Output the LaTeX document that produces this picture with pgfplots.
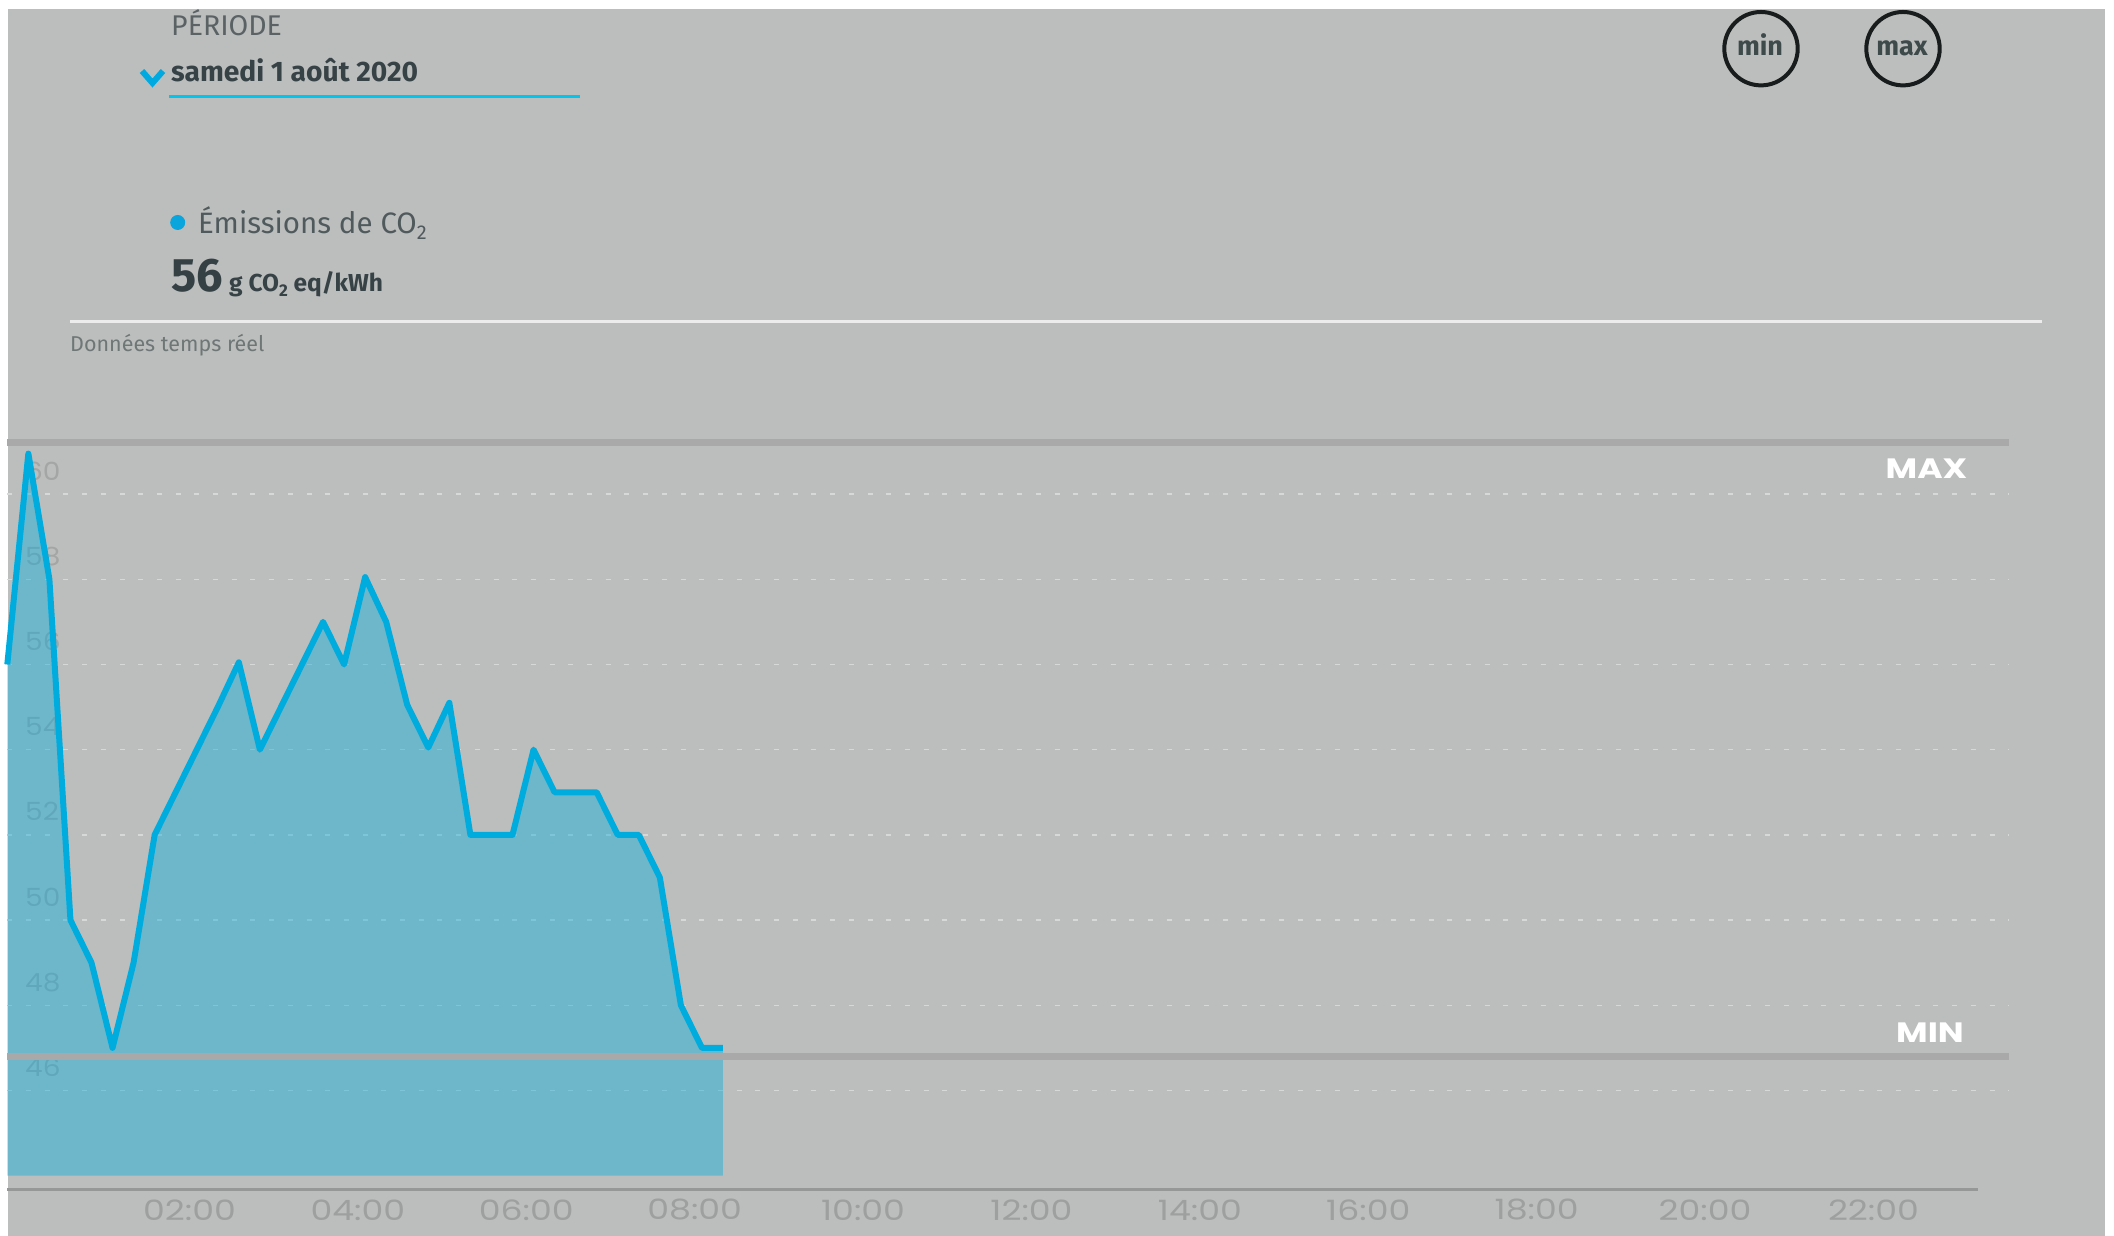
\documentclass[border=0pt]{standalone}
\usepackage{fontspec}
\setmainfont{Fira Sans}
\newfontfamily\pop{Poppins}
\newfontfamily\popx[FakeStretch=1.24]{Poppins}
\newfontfamily\popy[FakeStretch=1.12]{Poppins}
\usepackage{graphicx}
\usepackage{pgfplots}
\usepackage{pgfplotstable}
\pgfplotsset{compat=1.18}

\definecolor{bggray}{RGB}{188,190,189}
\definecolor{perc}{RGB}{90,98,100}
\definecolor{datec}{RGB}{55,66,70}
\definecolor{emc}{RGB}{80,90,92}
\definecolor{bigc}{RGB}{52,64,68}
\definecolor{donc}{RGB}{110,118,118}
\definecolor{xtickc}{RGB}{158,160,160}
\definecolor{ytickc}{RGB}{164,165,165}
\definecolor{gridc}{RGB}{215,216,216}
\definecolor{mmline}{RGB}{168,169,168}
\definecolor{axisc}{RGB}{150,152,152}
\definecolor{lineblue}{RGB}{0,172,222}
\definecolor{chevc}{RGB}{0,170,225}
\definecolor{ulc}{RGB}{0,198,238}
\definecolor{dotc}{RGB}{10,165,220}
\definecolor{rulec}{RGB}{236,236,236}
\definecolor{circc}{RGB}{25,28,28}
\definecolor{mmc}{RGB}{62,74,74}

\pgfplotstableread{
t v
0.00 56.0
0.25 60.95
0.50 58.0
0.75 50.0
1.00 49.0
1.25 47.0
1.50 49.0
1.75 52.0
2.00 53.0
2.25 54.0
2.50 55.0
2.75 56.05
3.00 54.0
3.25 55.0
3.50 56.0
3.75 57.0
4.00 56.0
4.25 58.05
4.50 57.0
4.75 55.05
5.00 54.05
5.25 55.1
5.50 52.0
5.75 52.0
6.00 52.0
6.25 54.0
6.50 53.0
6.75 53.0
7.00 53.0
7.25 52.0
7.50 52.0
7.75 51.0
8.00 48.0
8.25 47.0
8.50 47.0
}\co

\begin{document}
\begin{tikzpicture}[x=1pt,y=1pt]
\fill[white] (0,0) rectangle (2114,1236);
\fill[bggray] (7.5,0) rectangle (2105,1227);

% header
\node[anchor=base west, inner sep=0pt, text=perc, font=\fontsize{28.5}{31}\selectfont] at (171,1200.5) {PÉRIODE};
\draw[chevc, line width=6pt] (142,1165) -- (152.5,1153) -- (163,1165);
\node[anchor=base west, inner sep=0pt, text=datec, font=\bfseries\fontsize{28.2}{31}\selectfont] at (171,1154.3) {samedi 1 août 2020};
\draw[ulc, line width=3pt] (169,1139.7) -- (580,1139.7);
\fill[dotc] (177.7,1013.5) circle (7.5);
\node[anchor=base west, inner sep=0pt, text=emc, font=\fontsize{29.5}{32}\selectfont] at (198,1002.7) {Émissions de CO\raisebox{-0.22em}{\fontsize{20}{20}\selectfont 2}};
\node[anchor=base west, inner sep=0pt, text=bigc, font=\bfseries\fontsize{47}{50}\selectfont] at (171,944.3) {56};
\node[anchor=base west, inner sep=0pt, text=datec, font=\bfseries\fontsize{24.5}{27}\selectfont] at (229,944.3) {g CO\raisebox{-0.2em}{\fontsize{17}{17}\selectfont 2} eq/kWh};
\draw[rulec, line width=3pt] (70,914) -- (2042,914);
\node[anchor=base west, inner sep=0pt, text=donc, font=\fontsize{21.5}{25}\selectfont] at (70,884) {Données temps réel};

\draw[circc, line width=4pt] (1761,1187.3) circle (36.7);
\draw[circc, line width=4pt] (1903,1187.3) circle (36.7);
\node[anchor=base, inner sep=0pt, text=mmc, font=\bfseries\fontsize{27}{30}\selectfont] at (1760,1180) {min};
\node[anchor=base, inner sep=0pt, text=mmc, font=\bfseries\fontsize{27}{30}\selectfont] at (1902,1180) {max};

\coordinate (axorigin) at (7.3,46.7);
\begin{axis}[
  at={(axorigin)}, anchor=south west, scale only axis,
  width=2001.4pt, height=746.35pt,
  xmin=0, xmax=23.77, ymin=43.68, ymax=61.2,
  axis line style={draw=none}, major tick style={draw=none},
  xtick={2,4,6,8,10,12,14,16,18,20,22},
  xticklabels={02:00,04:00,06:00,08:00,10:00,12:00,14:00,16:00,18:00,20:00,22:00},
  ytick={46,48,50,52,54,56,58,60},
  yticklabels={46,48,50,52,54,56,58,60},
  xticklabel style={font=\popx\fontsize{28}{28}\selectfont, text=xtickc, anchor=center, inner sep=0pt, xshift=13.8pt, yshift=-20.7pt},
  yticklabel style={font=\popy\fontsize{25}{25}\selectfont, text=ytickc, anchor=base west, inner sep=0pt, xshift=17.7pt, yshift=14pt},
  clip=false,
]
\pgfplotsinvokeforeach{46,48,50,52,54,56,58,60}{
  \addplot[gridc, line width=1.5pt, dash pattern=on 5pt off 13.7pt] coordinates {(0,#1) (23.77,#1)};
}
\addplot[fill=lineblue, fill opacity=0.41, draw=none] table[x=t,y=v] {\co} -- (axis cs:8.5,44) -- (axis cs:0,44) -- cycle;
\addplot[mmline, line width=7pt] coordinates {(0,46.79) (23.77,46.79)};
\addplot[mmline, line width=7pt] coordinates {(0,61.2) (23.77,61.2)};
\addplot[axisc, line width=2.7pt] coordinates {(0,43.68) (23.405,43.68)};
\addplot[lineblue, line width=6pt, line join=round] table[x=t,y=v] {\co};
\end{axis}

\node[anchor=base, inner sep=0pt, text=white, font=\pop\bfseries\fontsize{28}{30}\selectfont] at (1926.5,757) {\scalebox{1.23}[1]{MAX}};
\node[anchor=base, inner sep=0pt, text=white, font=\pop\bfseries\fontsize{28}{30}\selectfont] at (1930,193) {\scalebox{1.23}[1]{MIN}};
\end{tikzpicture}
\end{document}
